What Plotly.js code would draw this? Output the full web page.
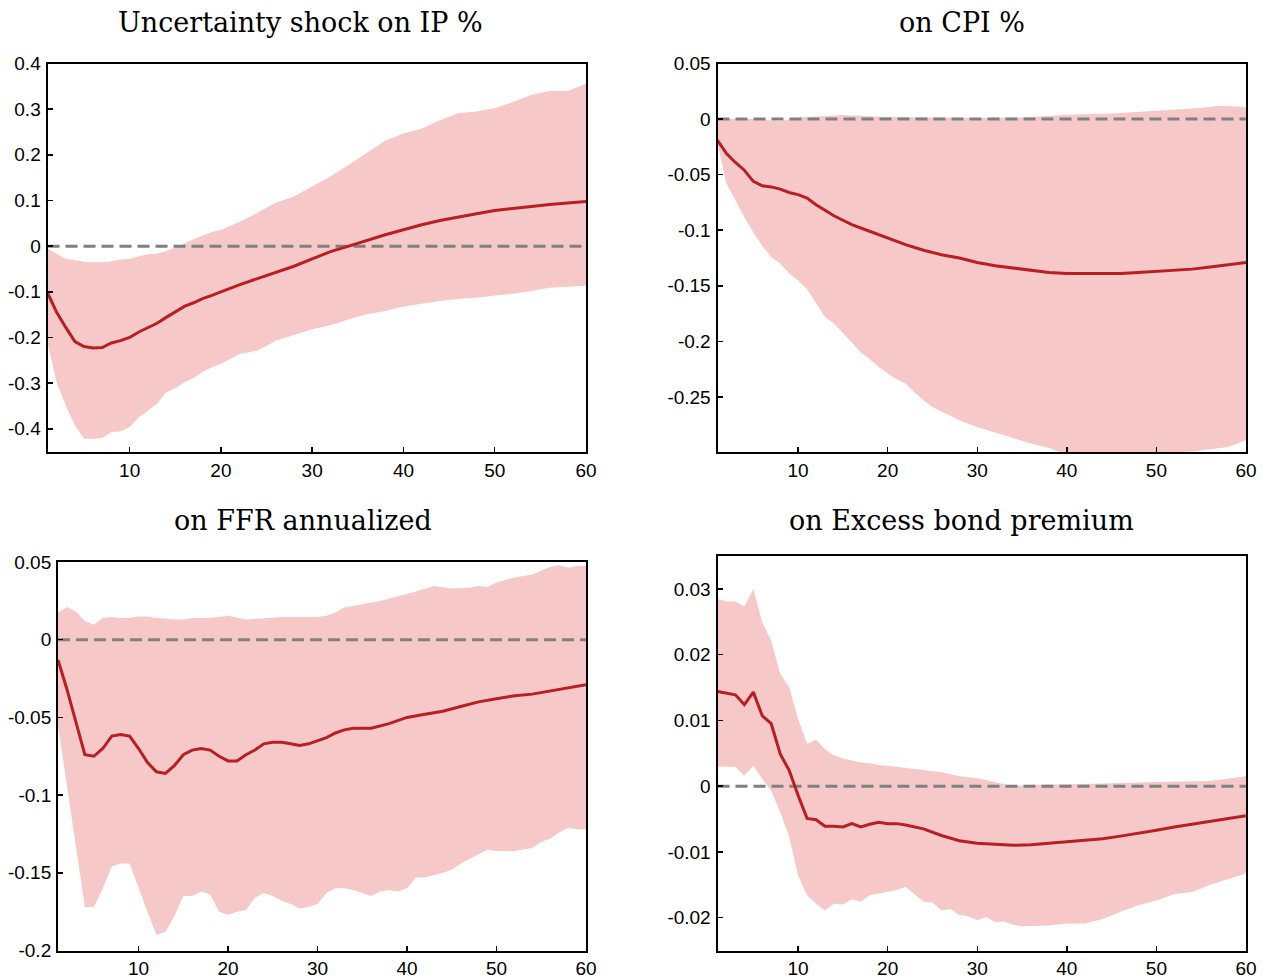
<!DOCTYPE html>
<html><head><meta charset="utf-8">
<script src="https://cdn.plot.ly/plotly-3.0.1.min.js"></script>
<style>html,body{margin:0;padding:0;background:#fff}#g{width:1267px;height:979px}</style>
</head><body><div id="g"></div>
<script>
// ---- Panel 1: IP ----
const ipMeanX = [1,2,3,4,5,6,7,8,9,10,11,12,13,14,15,16,17,18,19,20,22,24,26,28,30,32,34,36,38,40,42,44,46,48,50,52,54,56,58,60];
const ipMean  = [-0.102,-0.145,-0.178,-0.209,-0.220,-0.223,-0.222,-0.212,-0.207,-0.200,-0.188,-0.178,-0.169,-0.156,-0.144,-0.132,-0.124,-0.115,-0.108,-0.100,-0.085,-0.071,-0.057,-0.044,-0.028,-0.012,0.000,0.013,0.025,0.036,0.047,0.056,0.064,0.071,0.078,0.083,0.087,0.091,0.095,0.098];
const ipBandX = [1,2,3,4,5,6,7,8,9,10,11,12,13,14,15,16,17,18,19,20,22,24,26,28,30,32,34,36,38,40,42,44,46,48,50,52,54,56,58,60];
const ipUpper = [-0.005,-0.016,-0.028,-0.031,-0.034,-0.035,-0.035,-0.033,-0.029,-0.028,-0.022,-0.018,-0.016,-0.011,-0.003,0.006,0.015,0.023,0.031,0.036,0.053,0.073,0.095,0.109,0.131,0.153,0.178,0.204,0.231,0.247,0.257,0.276,0.291,0.295,0.302,0.316,0.331,0.340,0.340,0.356];
const ipLower = [-0.211,-0.298,-0.349,-0.393,-0.422,-0.422,-0.420,-0.407,-0.406,-0.396,-0.375,-0.360,-0.345,-0.320,-0.311,-0.298,-0.289,-0.275,-0.265,-0.258,-0.236,-0.229,-0.207,-0.195,-0.182,-0.173,-0.160,-0.149,-0.142,-0.132,-0.126,-0.120,-0.116,-0.113,-0.108,-0.104,-0.098,-0.091,-0.089,-0.087];

// ---- Panel 2: CPI ----
const cpiMeanX = [1,2,3,4,5,6,7,8,9,10,11,12,13,14,15,16,17,18,20,22,24,26,28,30,32,34,36,38,40,42,44,46,48,50,52,54,56,58,60];
const cpiMean  = [-0.019,-0.031,-0.039,-0.046,-0.056,-0.060,-0.061,-0.063,-0.066,-0.068,-0.071,-0.077,-0.082,-0.087,-0.091,-0.095,-0.098,-0.101,-0.107,-0.113,-0.118,-0.122,-0.125,-0.129,-0.132,-0.134,-0.136,-0.138,-0.139,-0.139,-0.139,-0.139,-0.138,-0.137,-0.136,-0.135,-0.133,-0.131,-0.129];
const cpiUpX   = [1,5,8,10,15,20,25,30,35,38,40,45,50,55,57,60];
const cpiUpper = [0.000,0.000,-0.002,0.0015,0.0036,0.002,0.0015,0.001,0.0015,0.003,0.004,0.005,0.0075,0.010,0.012,0.011];
const cpiLoX   = [1,2,3,4,5,6,7,8,9,10,11,12,13,14,15,16,17,18,19,20,21,22,23,24,25,26,28,30,32,34,36,38,40,42,44,46,48,50,52,54,56,58,60];
const cpiLower = [-0.022,-0.058,-0.073,-0.088,-0.102,-0.114,-0.124,-0.130,-0.139,-0.145,-0.153,-0.166,-0.178,-0.184,-0.192,-0.201,-0.210,-0.216,-0.223,-0.229,-0.234,-0.238,-0.246,-0.253,-0.259,-0.263,-0.271,-0.277,-0.282,-0.287,-0.292,-0.296,-0.302,-0.303,-0.303,-0.302,-0.302,-0.301,-0.300,-0.299,-0.297,-0.295,-0.289];

// ---- Panel 3: FFR ----
const ffrMeanX = [1,2,3,4,5,6,7,8,9,10,11,12,13,14,15,16,17,18,19,20,21,22,23,24,25,26,27,28,29,30,31,32,33,34,35,36,38,40,42,44,46,48,50,52,54,56,58,60];
const ffrMean  = [-0.013,-0.032,-0.053,-0.074,-0.075,-0.070,-0.062,-0.061,-0.062,-0.070,-0.079,-0.085,-0.086,-0.081,-0.074,-0.071,-0.070,-0.071,-0.075,-0.078,-0.078,-0.074,-0.071,-0.067,-0.066,-0.066,-0.067,-0.068,-0.067,-0.065,-0.063,-0.060,-0.058,-0.057,-0.057,-0.057,-0.054,-0.050,-0.048,-0.046,-0.043,-0.040,-0.038,-0.036,-0.035,-0.033,-0.031,-0.029];
const ffrUpX   = [1,2,3,4,5,6,7,8,9,10,11,12,13,14,15,16,18,20,22,24,26,28,30,31,32,33,35,37,39,41,43,45,47,48,49,50,52,54,56,57,58,59,60];
const ffrUpper = [0.0175,0.021,0.018,0.012,0.0096,0.014,0.0147,0.014,0.014,0.015,0.015,0.014,0.0137,0.013,0.013,0.014,0.014,0.0154,0.013,0.014,0.0147,0.0147,0.0147,0.0154,0.0175,0.0207,0.023,0.025,0.028,0.031,0.0346,0.033,0.0335,0.0346,0.034,0.0368,0.040,0.042,0.047,0.048,0.0464,0.0474,0.0474];
const ffrLoX   = [1,2,3,4,5,6,7,8,9,10,11,12,13,14,15,16,17,18,19,20,21,22,23,24,25,26,27,28,29,30,31,32,33,34,35,36,37,38,39,40,41,42,44,45,46,48,49,50,51,52,54,55,56,57,58,59,60];
const ffrLower = [-0.055,-0.094,-0.132,-0.172,-0.172,-0.160,-0.146,-0.144,-0.144,-0.160,-0.175,-0.190,-0.188,-0.178,-0.165,-0.165,-0.162,-0.164,-0.175,-0.177,-0.175,-0.174,-0.166,-0.163,-0.165,-0.168,-0.170,-0.173,-0.172,-0.170,-0.163,-0.160,-0.160,-0.161,-0.163,-0.165,-0.162,-0.161,-0.162,-0.160,-0.153,-0.153,-0.150,-0.148,-0.144,-0.138,-0.135,-0.136,-0.136,-0.136,-0.134,-0.130,-0.128,-0.124,-0.121,-0.122,-0.122];

// ---- Panel 4: Excess bond premium ----
const ebpMeanX = [1,2,3,4,5,6,7,8,9,10,11,12,13,14,15,16,17,18,19,20,21,22,24,26,28,30,32,34,36,38,40,42,44,46,48,50,52,54,56,58,60];
const ebpMean  = [0.0144,0.0142,0.0139,0.0124,0.0143,0.0107,0.0095,0.0049,0.0024,-0.0014,-0.0049,-0.0051,-0.0061,-0.0061,-0.0062,-0.0057,-0.0062,-0.0058,-0.0055,-0.0057,-0.0057,-0.0059,-0.0065,-0.0075,-0.0083,-0.0087,-0.0089,-0.0090,-0.0089,-0.0087,-0.0085,-0.0083,-0.0080,-0.0076,-0.0072,-0.0067,-0.0062,-0.0058,-0.0053,-0.0049,-0.0045];
const ebpUpX   = [1,2,3,4,5,6,7,8,9,10,11,12,13,14,15,16,17,18,19,20,22,24,26,28,30,32,34,36,38,40,44,48,52,56,60];
const ebpUpper = [0.0285,0.0281,0.0281,0.0273,0.0300,0.0249,0.0221,0.0171,0.0150,0.0102,0.0064,0.0071,0.0056,0.0047,0.0042,0.0039,0.0036,0.0035,0.0032,0.0031,0.0028,0.0024,0.0021,0.0015,0.0012,0.0006,0.0000,0.0002,0.0003,0.0003,0.0004,0.0006,0.0007,0.0008,0.0015];
const ebpLoX   = [1,2,3,4,5,6,7,8,9,10,11,12,13,14,15,16,17,18,19,20,21,22,23,24,25,26,27,28,29,30,31,32,33,34,35,36,38,40,42,44,46,48,50,52,54,56,58,60];
const ebpLower = [0.0030,0.0030,0.0029,0.0016,0.0031,0.0011,-0.0007,-0.0039,-0.0077,-0.0136,-0.0166,-0.0179,-0.0189,-0.0179,-0.0180,-0.0172,-0.0176,-0.0166,-0.0164,-0.0161,-0.0158,-0.0153,-0.0165,-0.0176,-0.0177,-0.0189,-0.0187,-0.0196,-0.0198,-0.0204,-0.0199,-0.0207,-0.0206,-0.0211,-0.0213,-0.0213,-0.0212,-0.0209,-0.0209,-0.0202,-0.0191,-0.0181,-0.0174,-0.0164,-0.0161,-0.0150,-0.0141,-0.0133];

// ---- Titles and ticks ----
const titles = ["Uncertainty shock on IP %", "on CPI %", "on FFR annualized", "on Excess bond premium"];
const xTickVals = [10,20,30,40,50,60];
const xTickText = ["10","20","30","40","50","60"];
const yTick1 = [0.4,0.3,0.2,0.1,0,-0.1,-0.2,-0.3,-0.4];
const yText1 = ["0.4","0.3","0.2","0.1","0","-0.1","-0.2","-0.3","-0.4"];
const yTick2 = [0.05,0,-0.05,-0.1,-0.15,-0.2,-0.25];
const yText2 = ["0.05","0","-0.05","-0.1","-0.15","-0.2","-0.25"];
const yTick3 = [0.05,0,-0.05,-0.1,-0.15,-0.2];
const yText3 = ["0.05","0","-0.05","-0.1","-0.15","-0.2"];
const yTick4 = [0.03,0.02,0.01,0,-0.01,-0.02];
const yText4 = ["0.03","0.02","0.01","0","-0.01","-0.02"];
const yRanges = [[-0.452,0.4],[-0.3,0.05],[-0.2,0.05],[-0.025,0.035]];
const xRange = [1,60];

const BAND = '#F6C8C8', LINE = '#B81E22', ZERO = '#808080';
const panels = [
  {mx: ipMeanX, m: ipMean, ux: ipBandX, u: ipUpper, lx: ipBandX, l: ipLower, tv: yTick1, tt: yText1},
  {mx: cpiMeanX, m: cpiMean, ux: cpiUpX, u: cpiUpper, lx: cpiLoX, l: cpiLower, tv: yTick2, tt: yText2},
  {mx: ffrMeanX, m: ffrMean, ux: ffrUpX, u: ffrUpper, lx: ffrLoX, l: ffrLower, tv: yTick3, tt: yText3},
  {mx: ebpMeanX, m: ebpMean, ux: ebpUpX, u: ebpUpper, lx: ebpLoX, l: ebpLower, tv: yTick4, tt: yText4}
];
const xDomains = [[0.0375,0.4625],[0.5663,0.9834],[0.0458,0.4625],[0.5663,0.9834]];
const yDomains = [[0.5378,0.9351],[0.5378,0.9351],[0.0291,0.4259],[0.0291,0.4320]];
const titlePos = [[0.237,0.977],[0.759,0.977],[0.239,0.468],[0.759,0.468]];

const traces = [];
const layout = {
  width: 1267, height: 979, margin: {l:0,r:0,t:0,b:0},
  paper_bgcolor: '#fff', plot_bgcolor: '#fff', showlegend: false,
  font: {family: 'Liberation Sans, Arial, sans-serif', size: 19, color: '#000'},
  annotations: []
};
panels.forEach((p, i) => {
  const n = i + 1, xa = 'x' + (n === 1 ? '' : n), ya = 'y' + (n === 1 ? '' : n);
  traces.push({type:'scatter', mode:'lines', x: p.ux.concat(p.lx.slice().reverse()), y: p.u.concat(p.l.slice().reverse()),
    fill:'toself', fillcolor: BAND, line:{width:0, color: BAND}, xaxis: xa, yaxis: ya, hoverinfo:'skip'});
  traces.push({type:'scatter', mode:'lines', x: xRange, y: [0,0], line:{color: ZERO, width: 3, dash: '12px,6px'}, xaxis: xa, yaxis: ya});
  traces.push({type:'scatter', mode:'lines', x: p.mx, y: p.m, line:{color: LINE, width: 3}, xaxis: xa, yaxis: ya});
  const axCommon = {showline:true, mirror:true, linecolor:'#000', linewidth:2, showgrid:false, zeroline:false,
    ticks:'inside', ticklen:5, tickwidth:1.5, tickcolor:'#000', tickfont:{size:19, family:'Liberation Sans, Arial, sans-serif'}};
  layout['xaxis' + (n === 1 ? '' : n)] = Object.assign({}, axCommon, {domain: xDomains[i], range: xRange, tickmode:'array', tickvals: xTickVals, ticktext: xTickText, anchor: ya, ticklabelstandoff: 0});
  layout['yaxis' + (n === 1 ? '' : n)] = Object.assign({}, axCommon, {domain: yDomains[i], range: yRanges[i], tickmode:'array', tickvals: p.tv, ticktext: p.tt, anchor: xa, ticklabelstandoff: 1});
  layout.annotations.push({text: titles[i], xref:'paper', yref:'paper', x: titlePos[i][0], y: titlePos[i][1], xanchor:'center', yanchor:'middle',
    showarrow:false, font:{family:'DejaVu Serif, serif', size: 27, color:'#000'}});
});
Plotly.newPlot('g', traces, layout, {staticPlot: true});
</script>
</body></html>
